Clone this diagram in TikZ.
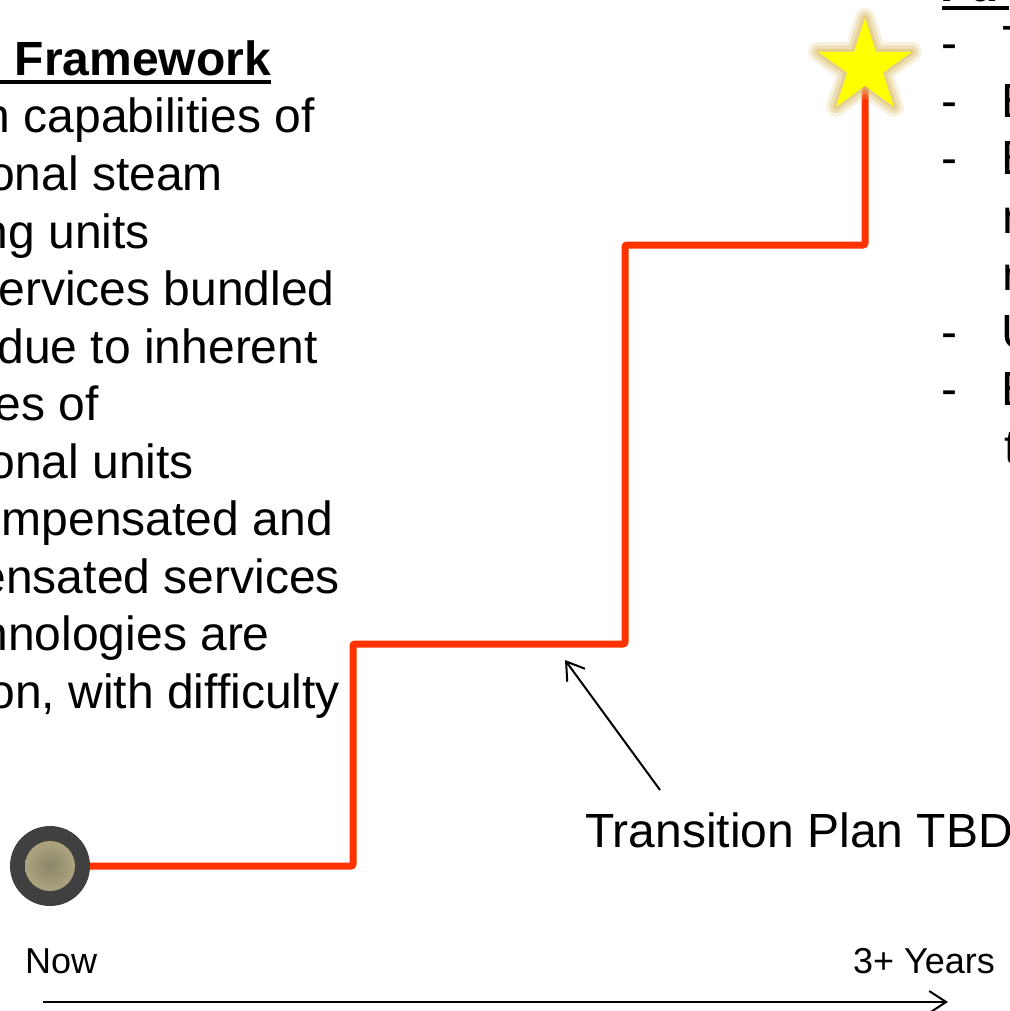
\documentclass[tikz,border=0pt]{standalone}
\usepackage{fontspec}
\setmainfont{Liberation Sans}
\usetikzlibrary{arrows.meta}
\usetikzlibrary{shapes.geometric}
\definecolor{stairred}{RGB}{255,51,0}
\definecolor{ringgray}{RGB}{64,64,64}
\definecolor{coretan}{RGB}{172,164,126}
\definecolor{coredark}{RGB}{138,134,106}
\definecolor{glowtan}{RGB}{222,196,120}
\definecolor{staryellow}{RGB}{255,255,0}

\begin{document}
\begin{tikzpicture}[x=1pt, y=-1pt,
  body/.style={inner sep=0pt, font=\fontsize{48}{57.6}\selectfont},
  head/.style={inner sep=0pt, font=\fontsize{48}{57.6}\selectfont\bfseries},
  tick/.style={inner sep=0pt, font=\fontsize{36}{43}\selectfont},
  stair/.style={draw=stairred, line width=7pt, rounded corners=2pt},
  pointer/.style={draw=black, line width=2pt, -{Straight Barb[length=17pt,width=22pt,line width=2pt]}},
  goalstar/.style={star, star points=5, star point ratio=2.618, minimum size=98pt, inner sep=0pt, line join=round}
]
\useasboundingbox (0,0) rectangle (1009,1011);
\clip (0,0) rectangle (1009,1011);
%%% Left column (cut at the page edge)
% heading
\node[head, anchor=base east] (lhead) at (271,76) {Framework};
\draw[line width=4pt] (0,82.5) -- (lhead.base east |- 0,82.5);
% lines
\node[body, anchor=base east] (l1) at (315,133) {n capabilities of};
\node[body, anchor=base east] (l2) at (223,190) {onal steam};
\node[body, anchor=base east] (l3) at (150,248) {ng units};
\node[body, anchor=base east] (l4) at (335,305) {ervices bundled};
\node[body, anchor=base east] (l5) at (318,363) {due to inherent};
\node[body, anchor=base east] (l6) at (99,420) {es of};
\node[body, anchor=base east] (l7) at (194,478) {onal units};
\node[body, anchor=base east] (l8) at (333,535) {mpensated and};
\node[body, anchor=base east] (l9) at (340,593) {ensated services};
\node[body, anchor=base east] (l10) at (270,650) {nnologies are};
\node[body, anchor=base east] (l11) at (340,708) {on, with difficulty};
%%% Right column (cut at the page edge)
% heading
\node[head, anchor=base west] (rhead) at (940,2) {Fu};
\draw[line width=4pt] (942,8.5) -- (1009,8.5);
% dashes
\node[body, anchor=base west] (d1) at (941,60) {-};
\node[body, anchor=base west] (d2) at (941,118) {-};
\node[body, anchor=base west] (d3) at (941,175) {-};
\node[body, anchor=base west] (d4) at (941,348) {-};
\node[body, anchor=base west] (d5) at (941,405) {-};
% first letters
\node[body, anchor=base west] (r1) at (1002,60) {T};
\node[body, anchor=base west] (r2) at (1001,118) {E};
\node[body, anchor=base west] (r3) at (1001,175) {E};
\node[body, anchor=base west] (r4) at (1002,233) {n};
\node[body, anchor=base west] (r5) at (1002,290) {n};
\node[body, anchor=base west] (r6) at (1001,348) {U};
\node[body, anchor=base west] (r7) at (1001,405) {E};
\node[body, anchor=base west] (r8) at (1004,463) {t};
%%% Staircase
% start point
\node[circle, fill=ringgray, minimum size=80pt, inner sep=0pt] (now) at (50,866) {};
\node[circle, minimum size=50pt, inner sep=0pt, inner color=coredark, outer color=coretan] (nowcore) at (now.center) {};
% steps
\coordinate (goal) at (865,67);
\draw[stair] (now.east) -- (353,866) -- (353,644) -- (625,644) -- (625,245) -- (865,245) -- (goal);
% star with glow
\node[goalstar, draw=glowtan, draw opacity=0.25, line width=20pt] at (goal) {};
\node[goalstar, draw=glowtan, draw opacity=0.4, line width=13pt] at (goal) {};
\node[goalstar, draw=glowtan, draw opacity=0.6, line width=6pt] at (goal) {};
\node[goalstar, fill=staryellow] (goalmark) at (goal) {};
%%% Transition label
\node[body, anchor=base west] (tbd) at (585,847) {Transition Plan TBD};
\coordinate (tbdtail) at (660,790);
\coordinate (tbdtip) at (565,660);
\draw[pointer] (tbdtail) -- (tbdtip);
%%% Time axis
\node[tick, anchor=base west] (nowlbl) at (25,973) {Now};
\node[tick, anchor=base east] (endlbl) at (995,973) {3+ Years};
\coordinate (axstart) at (43,1002);
\coordinate (axend) at (948,1002);
\draw[pointer] (axstart) -- (axend);
\end{tikzpicture}
\end{document}
